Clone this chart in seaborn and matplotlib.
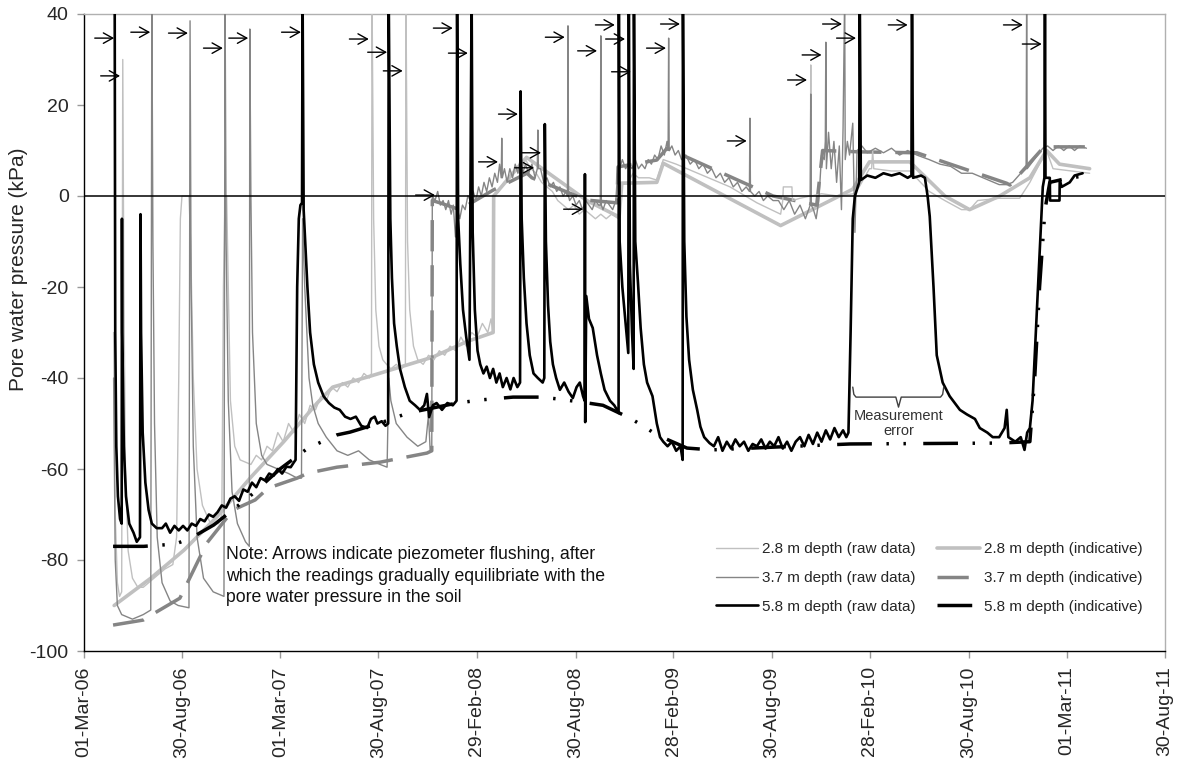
import numpy as np
import pandas as pd
import matplotlib
matplotlib.use("Agg")
import matplotlib.pyplot as plt
import matplotlib.dates as mdates
import seaborn as sns

START = pd.Timestamp("2006-03-01")
T = 45  # readings that run off the top of the axis

# ---------------- data (days since 01-Mar-06, kPa) ----------------
raw28_days = [55, 58, 62, 66, 70, 72, 74, 77, 82, 90, 100, 110, 120, 130, 150, 165, 172, 176, 179, 182, 195,
              198, 203, 210, 220, 235, 250, 256, 259, 262, 265, 268, 272, 280, 290, 300, 310, 320, 330, 340,
              350, 360, 370, 380, 390, 400, 410, 420, 430, 440, 450, 460, 470, 480, 490, 500, 510, 520, 530,
              534, 535, 538, 542, 548, 555, 562, 570, 580, 590, 597, 598, 601, 605, 612, 620, 630, 640, 650,
              660, 670, 680, 690, 700, 710, 720, 730, 740, 750, 756, 760, 761, 770, 780, 790, 800, 810, 820,
              830, 840, 850, 860, 870, 880, 890, 900, 910, 920, 930, 940, 950, 960, 970, 980, 993, 995, 1010,
              1020, 1030, 1050, 1064, 1076, 1100, 1150, 1200, 1250, 1294, 1298, 1299, 1315, 1316, 1330, 1349,
              1350, 1351, 1370, 1400, 1430, 1440, 1459, 1463, 1465, 1467, 1500, 1534, 1570, 1599, 1630, 1645,
              1660, 1700, 1738, 1757, 1788, 1800, 1868]
raw28_vals = [-30, -70, -85, -88, -87, 30, -20, -60, -78, -84, -86, -86, -85, -84, -82, -81, -75, -40, -5, 0, 0,
              -10, -40, -60, -68, -72, -72, -70, -20, 0, 0, -20, -45, -55, -58, -58.5, -59, -57, -58, -55,
              -56, -52, -54, -50, -52, -48, -50, -46, -47, -44, -45, -42, -43, -41, -42, -40, -41, -39, -40,
              -39, T, -5, -25, -33, -36, -37, -38, -37, -38, -37, T, -10, -25, -33, -36, -37, -35, -36,
              -34, -35, -33, -34, -31, -33, -30, -31, -28, -30, -27, -30, 0, 1, 3, 4, 6, 5, 8,
              6, 5, 3, 2, 1, -1, -2, -3, -2, -4, -3, -4, -5, -4, -5, -4, -5, 3, 3,
              5, 4, 4, 3.5, 8, 7, 4.5, 2, -1.5, -4, -1, 2, 2, -1, -0.5, 0,
              28.8, 0, 0.5, 0, 0.5, 2, 6, 6, 10, 6, 5.5, 5.5, 1, -1, -3, -3,
              -1, -0.5, -0.5, 3, 10, 6, 5]

raw37_days = [55, 58, 62, 70, 90, 110, 124, 126, 128, 131, 136, 145, 160, 175, 195, 197, 199, 203, 210, 222,
              240, 260, 262, 264, 268, 275, 285, 300, 307, 308, 310, 313, 320, 330, 340, 360, 380, 396, 404,
              406, 410, 418, 425, 435, 450, 470, 490, 510, 530, 550, 563, 566, 570, 580, 600, 620, 635, 640,
              643, 646, 647, 652, 657, 662, 667, 672, 677, 682, 686, 690, 694, 698, 703, 708, 713, 718, 723,
              728, 733, 738, 743, 748, 753, 758, 763, 768, 772, 775, 776, 777, 781, 786, 791, 796, 801, 806,
              810, 815, 820, 826, 832, 838, 842, 843, 844, 848, 854, 860, 866, 872, 878, 884, 890, 896, 898,
              899, 900, 902, 908, 914, 920, 926, 932, 938, 944, 950, 956, 959, 960, 961, 964, 970, 976, 982,
              988, 991, 995, 1000, 1006, 1012, 1018, 1024, 1030, 1036, 1042, 1048, 1054, 1060, 1066, 1072,
              1078, 1083, 1085, 1086, 1087, 1092, 1098, 1104, 1110, 1118, 1126, 1134, 1142, 1150, 1158, 1166,
              1174, 1182, 1190, 1198, 1206, 1214, 1222, 1230, 1236, 1237, 1238, 1246, 1254, 1262, 1270, 1280,
              1290, 1300, 1310, 1320, 1330, 1340, 1349, 1350, 1351, 1355, 1360, 1365, 1370, 1375, 1377, 1378,
              1379, 1383, 1388, 1393, 1398, 1403, 1407, 1410, 1413, 1414, 1418, 1422, 1428, 1432, 1436, 1445,
              1455, 1470, 1485, 1500, 1515, 1530, 1547, 1570, 1590, 1610, 1630, 1650, 1670, 1690, 1700, 1714,
              1725, 1740, 1750, 1751, 1752, 1765, 1781, 1790, 1800, 1810, 1820, 1830, 1840, 1850, 1862]
raw37_vals = [-40, -80, -90, -92, -93, -92, -91, T, -10, -50, -75, -85, -89, -90, -90.5, 38.5, -20, -55, -75, -84,
              -87, -88, T, -10, -45, -65, -72, -76, -77, 36.7, 0, -30, -50, -57, -59, -60, -61, -62, -62,
              -5, -20, -40, -46, -50, -53, -56, -57, -56, -58, -59, -59.6, -40, -45, -50, -53, -55, -54, -48,
              -56, -56, 0, -1, 1, -2, -1, -3, -1, -4, -2, -9, -3, -5, -2, -3, 0, -1, 1,
              -1, 2, 0, 3, 1, 4, 2, 5, 3, 7, 4, 12.7, 4, 6, 3, 6, 4, 7, 5,
              8, 5, 7, 5, 7, 4, 6, 14.5, 6, 6, 3, 4, 2, 3, 1, 2, 0, 1, 0,
              37.4, 0, -1, 0, -2, -1, -3, -1, -2, -3, -1, -2, -2, 35.2, -2, -3, -1, -2, -3,
              -1, 5, 6, 8, 6, 7, 6, 8, 6, 7, 6, 8, 7, 9, 8, 11,
              9, 12, 10, 34.7, 10, 11, 9, 10, 8, 9, 7, 8, 6, 7, 5, 6,
              4, 5, 3, 4, 2, 3, 1, 2, 1, 17.1, 1, 0, 1, -1, 0, -1,
              -1, -3, -1, -4, -2, -5, -2, 22.4, -2, -3, -5, -1, 9, 8, 12, 33.8,
              6, 14, 6, 12, 3, 11, -3, 15, T, 8, 12, 9, 16, -8, 10, 11,
              9.5, 10.5, 9.5, 10.5, 9, 10, 9, 8, 7, 6.5, 5, 5, 4, 3, 2.5, 2.5,
              3, 5, 6, T, 6, 8, 10.5, 11, 10, 11, 10, 11, 10, 11, 10.5]

raw58_days = [57, 58, 60, 63, 67, 70, 70.5, 71, 74, 78, 84, 92, 98, 104, 105, 106, 109, 114, 120, 126, 135,
              145, 152, 160, 168, 176, 184, 192, 200, 208, 216, 224, 232, 240, 248, 256, 264, 272, 280, 288,
              296, 304, 312, 320, 328, 336, 344, 352, 360, 368, 376, 384, 390, 393, 396, 399, 402, 405, 406,
              408, 410, 415, 420, 427, 435, 445, 455, 465, 475, 485, 495, 505, 515, 526, 533, 540, 545, 553,
              560, 565, 566, 569, 572, 576, 581, 587, 596, 605, 615, 624, 632, 637, 641, 648, 655, 665, 675,
              685, 692, 693, 695, 699, 704, 710, 716, 720, 722, 726, 731, 736, 742, 748, 754, 760, 766, 772,
              778, 785, 792, 798, 805, 810, 811, 813, 817, 822, 828, 835, 843, 852, 855, 856, 858, 862, 866,
              871, 877, 884, 892, 900, 908, 915, 921, 927, 930, 930.5, 931, 933, 938, 945, 953, 960, 967, 977,
              985, 990, 993, 993.5, 995, 1000, 1006, 1011, 1012, 1014, 1018, 1021, 1021.5, 1024, 1029, 1034,
              1040, 1046, 1056, 1064, 1070, 1076, 1084, 1092, 1100, 1108, 1112, 1112.5, 1115, 1119, 1124,
              1131, 1139, 1145, 1152, 1162, 1170, 1178, 1186, 1194, 1202, 1210, 1218, 1226, 1234, 1242, 1250,
              1258, 1266, 1274, 1282, 1290, 1298, 1306, 1314, 1322, 1330, 1338, 1346, 1354, 1362, 1370, 1378,
              1386, 1394, 1402, 1410, 1416, 1420, 1424, 1428, 1432, 1440, 1441, 1443, 1455, 1470, 1485, 1500,
              1515, 1530, 1537, 1538, 1540, 1555, 1562, 1567, 1571, 1578, 1584, 1595, 1608, 1627, 1640, 1655,
              1664, 1678, 1688, 1700, 1710, 1714, 1717, 1730, 1740, 1747, 1752, 1757, 1762, 1768, 1775, 1781,
              1784, 1785, 1786, 1788, 1794, 1794.5, 1812, 1812.5, 1816, 1831, 1840, 1855]
raw58_vals = [T, -30, -55, -66, -71, -72, -5, -30, -55, -66, -72, -74, -76, -75, -4, -30, -52, -63, -69, -72, -73,
              -73, -72, -74, -72.5, -73.5, -72.5, -73.5, -72, -72.5, -71, -71.5, -70, -70.5, -69.5, -68, -68.5,
              -66.5, -66, -67, -64.5, -65, -63, -64, -62, -62.5, -61, -61.5, -60, -61, -59.5, -59.6, -58.5, -58,
              -20, -5, -2, -1.5, T, -3, -8, -20, -30, -37, -41, -44, -45.5, -46.5, -47, -48.5, -49, -48.5,
              -50.5, -51, -49, -48.5, -50, -49.5, -50.5, -50, T, -5, -18, -28, -33, -38, -42, -45, -46, -47,
              -46, -43.5, -48.6, -46, -45.5, -47, -45.5, -46, -45, T, -5, -15, -25, -31, -36, T, -8, -25, -34,
              -37, -39, -37.5, -40, -38, -41, -39, -42, -40, -42.5, -40, -42, -41, 23, -5, -18, -28, -35, -39,
              -40, -41, -40, 15.8, -10, -24, -32, -37, -40, -42.6, -41, -43, -44.4, -42, -41, -44, -45, 4.8,
              -49.7, -22, -27, -29, -35, -39, -42.6, -45, -46, -47, -47.7, T, -10, -20, -28, -34.5, T, -15,
              -30, -38, T, -10, -19, -29, -37, -41, -44, -50, -53, -54, -55, -54, -56, -55, -58, T, -10,
              -26.5, -36, -42.6, -47, -50.7, -53, -54.3, -55, -53, -56, -54, -55.5, -53.5, -55, -54, -56,
              -54.5, -55, -53.5, -55.5, -54, -55, -53, -55.5, -54, -56, -54, -53, -55, -52.5, -54.5, -52,
              -54, -51.5, -53.5, -51, -53, -51.5, -53, -52, -30, -5, 0, 3, T, 3.5, 4.5, 4, 5, 4.5, 5, 4,
              4.5, T, 4, 4.5, 4, 0, -4.5, -20, -35, -41, -44, -47, -48, -49, -51, -52, -53, -53, -51, -47,
              -53, -54, -53, -55.8, -52, -51, -45, -30, -12, 2, 4, T, 4, 4, 4, -1, -1, 3.5, 2, 3, 4.5, 5]

ind28_days = [56, 124, 186, 247, 310, 371, 433, 462, 526, 587, 648, 711, 760, 761, 822, 934, 994, 999, 1064,
              1076, 1294, 1428, 1459, 1534, 1599, 1645, 1701, 1757, 1788, 1812, 1868]
ind28_vals = [-90, -84, -77.8, -70.5, -61.8, -54, -45.5, -42, -39.8, -37.6, -35.4, -32, -30, 0, 8.5, -1, -4.6,
              2.8, 3, 7.2, -6.5, 1.5, 7.5, 7.5, 0, -3, 0, 4, 10, 7, 6]

ind37_days = [54, 110, 132, 178, 188, 228, 277, 318, 342, 396, 416, 470, 550, 637, 646, 647, 661, 698, 760,
              823, 832, 934, 990, 992, 1064, 1083, 1280, 1361, 1372, 1441, 1547, 1714, 1720, 1781, 1788, 1862]
ind37_vals = [-94.3, -93.2, -91.6, -88.4, -86, -76.3, -69, -66.8, -64.2, -62, -60.9, -59.6, -58.5, -56.5, -56,
              -1, -1.5, -3, 1.3, 5, 4, -0.9, -1.5, 6.4, 7.9, 10.5, 0, -2, 10, 9.7, 9.5, 2.8, 2.4, 10.5,
              10.8, 10.8]

ind58_days = [54, 111, 169, 197, 241, 308, 364, 416, 470, 494, 555, 602, 693, 739, 797, 847, 880, 936, 964,
              1014, 1038, 1064, 1120, 1166, 1280, 1423, 1701, 1757, 1766, 1775, 1785, 1794, 1831, 1868]
ind58_vals = [-77, -77, -76.5, -75.3, -72.3, -66, -60, -55.4, -52.5, -51.9, -49.7, -47.7, -45.5, -44.8, -44.2,
              -44.2, -44.6, -45.5, -46, -48.8, -50.5, -52.5, -55.4, -55.8, -55.2, -54.5, -54.3, -54, -40,
              -20, -3, 3, 4, 4.5]

# flushing arrows (tip position)
arrow_days = [56, 67, 123, 193, 258, 305, 403, 529, 563, 592, 685, 713, 652, 769, 806, 849, 836, 893, 953,
              927, 986, 1005, 1016, 1081, 1107, 1231, 1343, 1370, 1408, 1434, 1530, 1744, 1779]
arrow_vals = [34.7, 26.4, 36.0, 35.8, 32.5, 34.7, 36.0, 34.5, 31.6, 27.5, 36.9, 31.4, 0.2, 7.5, 18.0, 9.5,
              6.2, 34.9, 31.9, -2.9, 37.6, 34.5, 27.3, 32.5, 37.8, 12.1, 25.5, 31.0, 37.8, 34.7, 37.6, 37.6,
              33.4]
ARROW_LEN_DAYS = 36

# "Measurement error" brace
brace_days = [1428, 1430, 1434, 1508, 1513, 1518, 1591, 1595, 1597]
brace_vals = [-42, -43.6, -44.2, -44.2, -46.4, -44.2, -44.2, -43.6, -42]

tick_labels = ["01-Mar-06", "30-Aug-06", "01-Mar-07", "30-Aug-07", "29-Feb-08", "30-Aug-08",
               "28-Feb-09", "30-Aug-09", "28-Feb-10", "30-Aug-10", "01-Mar-11", "30-Aug-11"]
y_ticks = [40, 20, 0, -20, -40, -60, -80, -100]

legend_labels = ["2.8 m depth (raw data)", "3.7 m depth (raw data)", "5.8 m depth (raw data)",
                 "2.8 m depth (indicative)", "3.7 m depth (indicative)", "5.8 m depth (indicative)"]

# ---------------- style ----------------
sns.set_style("white")
plt.rcParams["font.family"] = ["Liberation Sans", "DejaVu Sans"]
plt.rcParams["axes.unicode_minus"] = False

C28, C37, C58 = "#c0c0c0", "#858585", "#000000"


def to_dates(days):
    return START + pd.to_timedelta(np.asarray(days, dtype=float), unit="D")


fig = plt.figure(figsize=(11.82, 7.62), dpi=100)
ax = fig.add_axes([84 / 1182, 1 - 651 / 762, (1165 - 84) / 1182, (651 - 14) / 762])

handles = {}


def draw(days, vals, key, **kw):
    sns.lineplot(x=to_dates(days), y=np.asarray(vals, dtype=float), ax=ax, sort=False,
                 estimator=None, legend=False, **kw)
    handles[key] = ax.lines[-1]


draw(ind28_days, ind28_vals, "i28", color=C28, lw=2.6, zorder=2, solid_joinstyle="round")
draw(ind37_days, ind37_vals, "i37", color=C37, lw=2.5, linestyle=(0, (9, 4)), zorder=2)
draw(raw28_days, raw28_vals, "r28", color=C28, lw=1.0, zorder=3)
draw(raw37_days, raw37_vals, "r37", color=C37, lw=1.0, zorder=3.2)
ax.axhline(0, color="black", lw=1.1, zorder=3.5)
draw(ind58_days, ind58_vals, "i58", color=C58, lw=2.5, linestyle=(0, (10, 4.2, 0.7, 4.2, 0.7, 5)),
     zorder=4, dash_capstyle="butt")
draw(raw58_days, raw58_vals, "r58", color=C58, lw=1.9, zorder=5)

# arrows marking piezometer flushing
for d, v in zip(arrow_days, arrow_vals):
    tip = to_dates([d])[0]
    tail = to_dates([d - ARROW_LEN_DAYS])[0]
    ax.annotate("", xy=(mdates.date2num(tip), v), xytext=(mdates.date2num(tail), v),
                arrowprops=dict(arrowstyle="->,head_length=0.45,head_width=0.25", color="black",
                                lw=1.0, mutation_scale=15, shrinkA=0, shrinkB=0), zorder=6)

# measurement-error brace and text
ax.plot(to_dates(brace_days), brace_vals, color="#404040", lw=1.0, zorder=6)
ax.text(mdates.date2num(to_dates([1513])[0]), -46.8, "Measurement\nerror", ha="center", va="top",
        fontsize=10.5, color="#333333", linespacing=1.1, zorder=6)

# note
ax.text(mdates.date2num(to_dates([264])[0]), -77.0,
        "Note: Arrows indicate piezometer flushing, after\nwhich the readings gradually equilibriate with the\npore water pressure in the soil",
        ha="left", va="top", fontsize=12.7, linespacing=1.32, color="#111111", zorder=6)

# axes
tick_dates = pd.to_datetime(tick_labels, format="%d-%b-%y")
ax.set_xlim(mdates.date2num(tick_dates[0]), mdates.date2num(tick_dates[-1]))
ax.set_xticks(mdates.date2num(tick_dates))
ax.set_xticklabels(tick_labels, rotation=90, fontsize=14)
ax.set_ylim(-100, 40)
ax.set_yticks(y_ticks)
ax.set_yticklabels([str(t) for t in y_ticks], fontsize=14)
ax.set_xlabel("")
ax.set_ylabel("Pore water pressure (kPa)", fontsize=15)
ax.yaxis.set_label_coords(-0.052, 0.60)
ax.tick_params(axis="both", direction="out", length=5, width=1, color="#999999", pad=6,
               bottom=True, left=True, top=False, right=False)

for s in ["left", "bottom"]:
    ax.spines[s].set_color("black")
    ax.spines[s].set_linewidth(1.0)
for s in ["top", "right"]:
    ax.spines[s].set_color("#b0b0b0")
    ax.spines[s].set_linewidth(1.0)
ax.grid(False)

leg_handles = [handles[k] for k in ["r28", "r37", "r58", "i28", "i37", "i58"]]
ax.legend(leg_handles, legend_labels, ncol=2, frameon=False, loc="center",
          bbox_to_anchor=(929 / 1182, 1 - 578 / 762), bbox_transform=fig.transFigure,
          fontsize=11, handlelength=2.8, handletextpad=0.25, columnspacing=1.4, labelspacing=0.95)

fig.savefig("out.png", dpi=100)
